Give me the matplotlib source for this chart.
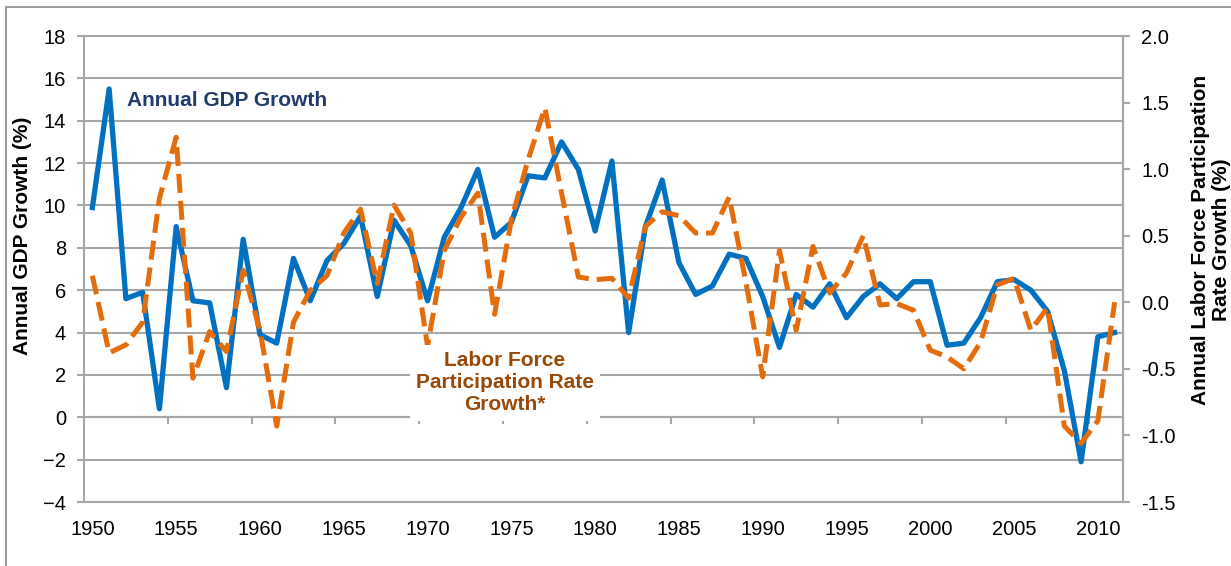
import matplotlib
matplotlib.use("Agg")
import matplotlib.pyplot as plt
import numpy as np

plt.rcParams['font.family'] = ['Liberation Sans', 'DejaVu Sans']

years = np.arange(1950, 2012)
gdp = [9.9, 15.5, 5.6, 5.9, 0.4, 9.0, 5.5, 5.4, 1.4, 8.4, 3.9, 3.5, 7.5, 5.5, 7.4, 8.2, 9.5, 5.7, 9.3, 8.1,
       5.5, 8.5, 9.9, 11.7, 8.5, 9.2, 11.4, 11.3, 13.0, 11.7, 8.8, 12.1, 4.0, 9.0, 11.2, 7.3, 5.8, 6.2, 7.7, 7.5,
       5.7, 3.3, 5.8, 5.2, 6.3, 4.7, 5.7, 6.3, 5.6, 6.4, 6.4, 3.4, 3.5, 4.7, 6.4, 6.5, 6.0, 5.0, 2.2, -2.1, 3.8, 4.0]
lfpr = [0.20, -0.38, -0.32, -0.15, 0.78, 1.24, -0.57, -0.22, -0.37, 0.24, -0.21, -0.93, -0.15, 0.09, 0.20, 0.52, 0.70, 0.14, 0.73, 0.52,
        -0.33, 0.39, 0.64, 0.82, -0.09, 0.62, 1.07, 1.46, 0.82, 0.19, 0.17, 0.18, 0.03, 0.57, 0.68, 0.65, 0.52, 0.52, 0.79, 0.15,
        -0.56, 0.39, -0.21, 0.42, 0.07, 0.22, 0.50, -0.02, -0.01, -0.06, -0.36, -0.41, -0.50, -0.30, 0.13, 0.18, -0.21, -0.04, -0.93, -1.06, -0.89, 0.0]
year_labels = np.arange(1950, 2011, 5)

grey = '#A6A6A6'
blue = '#0070C0'
orange = '#E46C0A'

fig = plt.figure(figsize=(12.31, 5.66), dpi=100)
ax = fig.add_axes([84/1231, 1-502/566, (1123-84)/1231, (502-36)/566])

# outer chart frame
fig.patches.append(plt.Rectangle((6/1231, -0.1), 1.2, 1.1 - 7/566, transform=fig.transFigure,
                                 fill=False, edgecolor='#8C8C8C', lw=1.2))

ax.plot(years, gdp, color=blue, lw=3.8, solid_joinstyle='round', zorder=3)
ax.set_xlim(1949.5, 2011.5)
ax.set_ylim(-4, 18)
ax.set_yticks(np.arange(-4, 19, 2))
ax.set_xticks(year_labels)
ax.yaxis.grid(True, color=grey, lw=1.5)
ax.set_axisbelow(True)
ax.tick_params(axis='x', length=0, pad=13, labelsize=14.5)
ax.tick_params(axis='y', length=5, width=1.5, color=grey, pad=8, labelsize=14.5)
for s in ax.spines.values():
    s.set_color(grey)
    s.set_linewidth(1.5)

# category axis drawn at zero
sec = ax.secondary_xaxis(4/22)
sec.set_xticks(np.arange(1954.5, 2010, 5))
sec.tick_params(axis='x', length=5, width=1.5, color=grey, labelbottom=False, labeltop=False)
for s in sec.spines.values():
    s.set_color(grey)
    s.set_linewidth(1.5)

ax2 = ax.twinx()
ax2.plot(years, lfpr, color=orange, lw=3.6, dashes=(3.8, 1.6), zorder=3)
ax2.set_ylim(-1.5, 2.0)
ax2.set_yticks(np.arange(-1.5, 2.01, 0.5))
ax2.set_yticklabels([f'{v:.1f}' for v in np.arange(-1.5, 2.01, 0.5)])
ax2.tick_params(axis='y', length=5, width=1.5, color=grey, pad=8, labelsize=14.5)
for name, s in ax2.spines.items():
    s.set_color(grey)
    s.set_linewidth(1.5)
    s.set_visible(name == 'right')

fig.text(127/1231, 1-101/566, 'Annual GDP Growth', color='#1F3B6B', fontsize=15,
         fontweight='bold', ha='left', va='center')
fig.text(505/1231, 1-383/566, 'Labor Force\nParticipation Rate\nGrowth*', color='#984807',
         fontsize=15, fontweight='bold', ha='center', va='center', multialignment='center',
         linespacing=1.2,
         bbox=dict(facecolor='white', edgecolor='none', boxstyle='square,pad=0.3'))

fig.text(23/1231, 1-236/566, 'Annual GDP Growth (%)', rotation=90, fontsize=15,
         fontweight='bold', ha='center', va='center')
fig.text(1211/1231, 1-240/566, 'Annual Labor Force Participation\nRate Growth (%)', rotation=90,
         fontsize=15, fontweight='bold', ha='center', va='center', multialignment='center',
         linespacing=1.1)

fig.savefig('out.png', dpi=100)
